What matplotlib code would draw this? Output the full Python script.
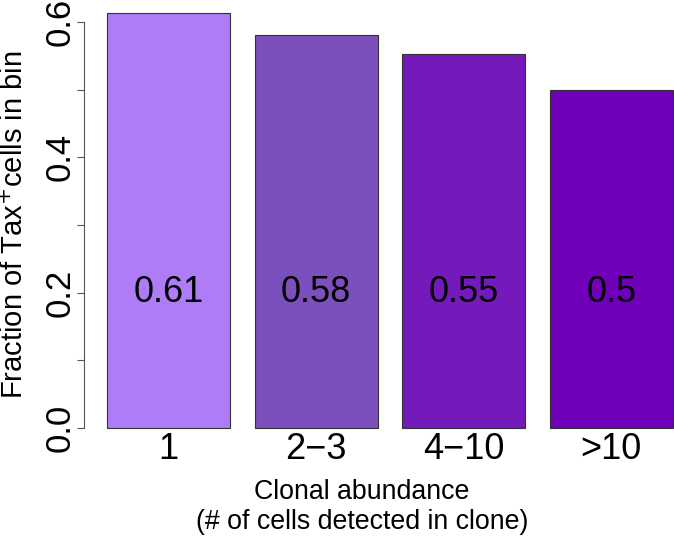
import matplotlib
matplotlib.use("Agg")
import matplotlib.pyplot as plt

# data
bins = ["1", "2\u22123", "4\u221210", ">10"]
fractions = [0.6125, 0.58, 0.553, 0.5]
value_labels = ["0.61", "0.58", "0.55", "0.5"]
colors = ["#af7cf7", "#7b4fbc", "#7419ba", "#7000b9"]

plt.rcParams['font.family'] = ['Liberation Sans', 'DejaVu Sans']

W, H = 674, 537
fig = plt.figure(figsize=(W / 100, H / 100), dpi=100)

# axes placed in pixel terms (left 84, right 674, top 5, bottom 440)
ax = fig.add_axes([84 / W, 1 - 440 / H, (674 - 84) / W, (440 - 5) / H])

centers = [0.7 + 1.2 * i for i in range(len(bins))]
ax.bar(centers, fractions, width=1.0, color=colors, edgecolor="#333333", linewidth=0.8)

for c, lab in zip(centers, value_labels):
    ax.text(c, 0.2, lab, ha="center", va="center", fontsize=26, color="black")

# bar names under the bars
for c, lab in zip(centers, bins):
    ax.text(c, -0.031, lab, ha="center", va="center", fontsize=26, clip_on=False)

ax.set_xlim(0.013, 4.81)
ax.set_ylim(-0.0177, 0.625)

for s in ["top", "right", "bottom"]:
    ax.spines[s].set_visible(False)
ax.spines["left"].set_bounds(0, 0.6)
ax.spines["left"].set_color("#555555")

ax.set_yticks([0, 0.1, 0.2, 0.3, 0.4, 0.5, 0.6])
ax.set_yticklabels(["0.0", "", "0.2", "", "0.4", "", "0.6"], rotation=90, va="center", fontsize=25)
ax.tick_params(axis="y", length=5.2, width=0.8, color="#555555", pad=0)
ax.set_xticks([])

fig.text(362 / W, 1 - 492 / H, "Clonal abundance", ha="center", va="center", fontsize=19.3)
fig.text(362 / W, 1 - 522 / H, "(# of cells detected in clone)", ha="center", va="center", fontsize=19.3)
fig.text(15 / W, 1 - 225 / H, "Fraction of Tax$^{+}$cells in bin", rotation=90,
         ha="center", va="center", fontsize=21)

fig.savefig("out.png", dpi=100)
